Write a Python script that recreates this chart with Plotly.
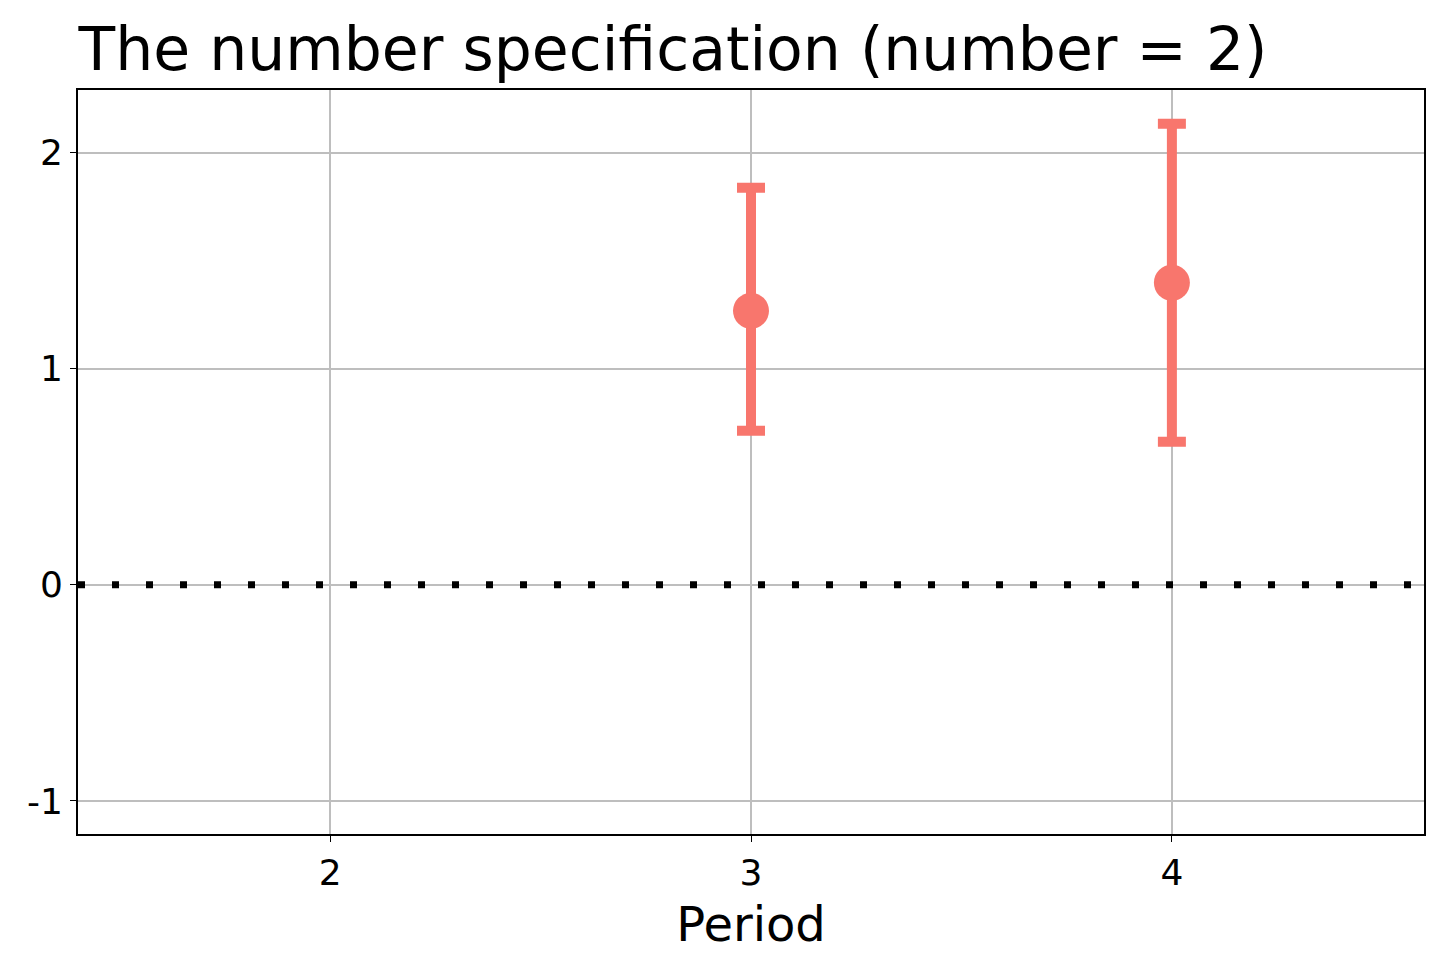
import plotly.graph_objects as go

period = [3, 4]
estimate = [1.268, 1.398]
ci_low = [0.713, 0.662]
ci_high = [1.838, 2.134]
ytick_vals = [-1, 0, 1, 2]
ytick_text = ["-1", "0", "1", "2"]
color = "#F8766D"

fig = go.Figure()
fig.add_trace(go.Scatter(
    x=period, y=estimate, mode="markers",
    marker=dict(color=color, size=36),
    error_y=dict(type="data", symmetric=False,
                 array=[h - e for h, e in zip(ci_high, estimate)],
                 arrayminus=[e - l for e, l in zip(estimate, ci_low)],
                 color=color, thickness=10, width=14),
    showlegend=False,
))
fig.add_shape(type="line", xref="paper", x0=0, x1=1, y0=0, y1=0,
              line=dict(color="black", width=7, dash="7px,27px"))

fig.update_layout(
    width=1440, height=960,
    paper_bgcolor="white", plot_bgcolor="white",
    margin=dict(l=70, r=24, t=82, b=134),
    font=dict(family="DejaVu Sans", color="black", size=36),
    title=dict(text="The number specification (number = 2)", x=0.049, xanchor="left",
               y=0.957, yanchor="middle", font=dict(size=60)),
)
fig.update_xaxes(range=[1.401, 4.599], tickvals=[2, 3, 4], showgrid=True, gridcolor="#BEBEBE",
                 gridwidth=2, showline=True, linecolor="black", linewidth=2, mirror=True,
                 zeroline=False, ticks="outside", ticklen=6, tickcolor="black",
                 title=dict(text="Period", font=dict(size=48)))
fig.update_yaxes(range=[-1.153, 2.29], tickvals=ytick_vals, ticktext=ytick_text, showgrid=True,
                 gridcolor="#BEBEBE", gridwidth=2, showline=True, linecolor="black", linewidth=2,
                 mirror=True, zeroline=False, ticks="outside", ticklen=6, tickcolor="black")

fig.write_html("out.html")
fig.add_annotation  # placeholder no-op
